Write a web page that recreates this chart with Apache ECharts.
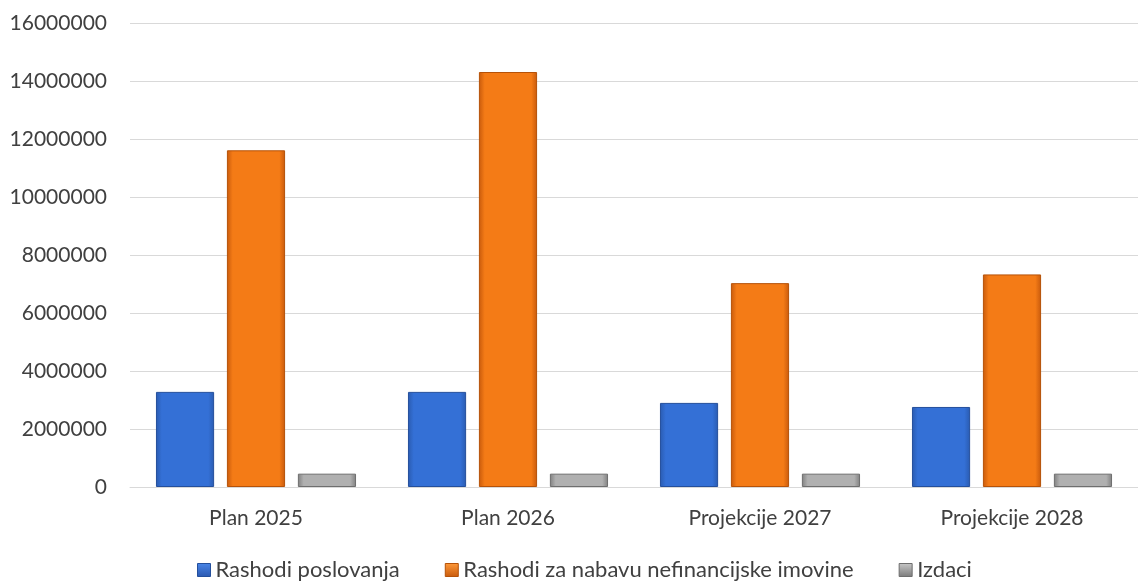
<!DOCTYPE html>
<html><head><meta charset="utf-8">
<script src="https://cdn.jsdelivr.net/npm/echarts@6/dist/echarts.min.js"></script>
<style>html,body{margin:0;padding:0;background:#fff}#c{width:1138px;height:585px}</style>
</head><body><div id="c"></div>
<script>
const categories = ['Plan 2025', 'Plan 2026', 'Projekcije 2027', 'Projekcije 2028'];
const rashodiPoslovanja = [3280000, 3280000, 2900000, 2760000];
const rashodiNabava = [11610000, 14310000, 7030000, 7330000];
const izdaci = [460000, 460000, 460000, 460000];
const seriesNames = ['Rashodi poslovanja', 'Rashodi za nabavu nefinancijske imovine', 'Izdaci'];

function grad(edge, mid) {
  return new echarts.graphic.LinearGradient(0, 0, 1, 0, [
    {offset: 0, color: edge}, {offset: 0.1, color: mid}, {offset: 0.9, color: mid}, {offset: 1, color: edge}
  ]);
}
function legendGrad(top, bottom) {
  return new echarts.graphic.LinearGradient(0, 0, 0, 1, [
    {offset: 0, color: top}, {offset: 1, color: bottom}
  ]);
}
const styles = [
  {color: grad('#2a5bb0', '#3470d6'), border: '#244f9c', legend: legendGrad('#4a86e8', '#2a58b0')},
  {color: grad('#c85a0c', '#f47b16'), border: '#b65208', legend: legendGrad('#ff9a3a', '#c85a0c')},
  {color: grad('#808080', '#b0b0b0'), border: '#6e6e6e', legend: legendGrad('#c8c8c8', '#7a7a7a')}
];
const dataSets = [rashodiPoslovanja, rashodiNabava, izdaci];
const chart = echarts.init(document.getElementById('c'));
const font = 'Lato, "Open Sans", sans-serif';
chart.setOption({
  animation: false,
  textStyle: {fontFamily: font},
  grid: {left: 130, right: 0, top: 23, bottom: 98},
  legend: {
    top: 559, left: 197, padding: 0, itemWidth: 13, itemHeight: 13, itemGap: 45,
    textStyle: {fontSize: 22, color: '#404040', fontFamily: font},
    icon: 'rect',
    data: seriesNames.map((n, i) => ({name: n, itemStyle: {color: styles[i].legend, borderColor: styles[i].border, borderWidth: 1}}))
  },
  xAxis: {
    type: 'category', data: categories,
    axisLine: {lineStyle: {color: '#d9d9d9', width: 1}},
    axisTick: {show: false},
    axisLabel: {fontSize: 21, color: '#404040', margin: 21}
  },
  yAxis: {
    type: 'value', min: 0, max: 16000000, interval: 2000000,
    axisLine: {show: false}, axisTick: {show: false},
    splitLine: {lineStyle: {color: '#d9d9d9', width: 1}},
    axisLabel: {fontSize: 21, color: '#404040', margin: 23, formatter: v => String(v)}
  },
  series: dataSets.map((d, i) => ({
    name: seriesNames[i], type: 'bar', data: d,
    barGap: '22%', barCategoryGap: '20.6%',
    itemStyle: {color: styles[i].color, borderColor: styles[i].border, borderWidth: 1}
  }))
});
</script></body></html>
